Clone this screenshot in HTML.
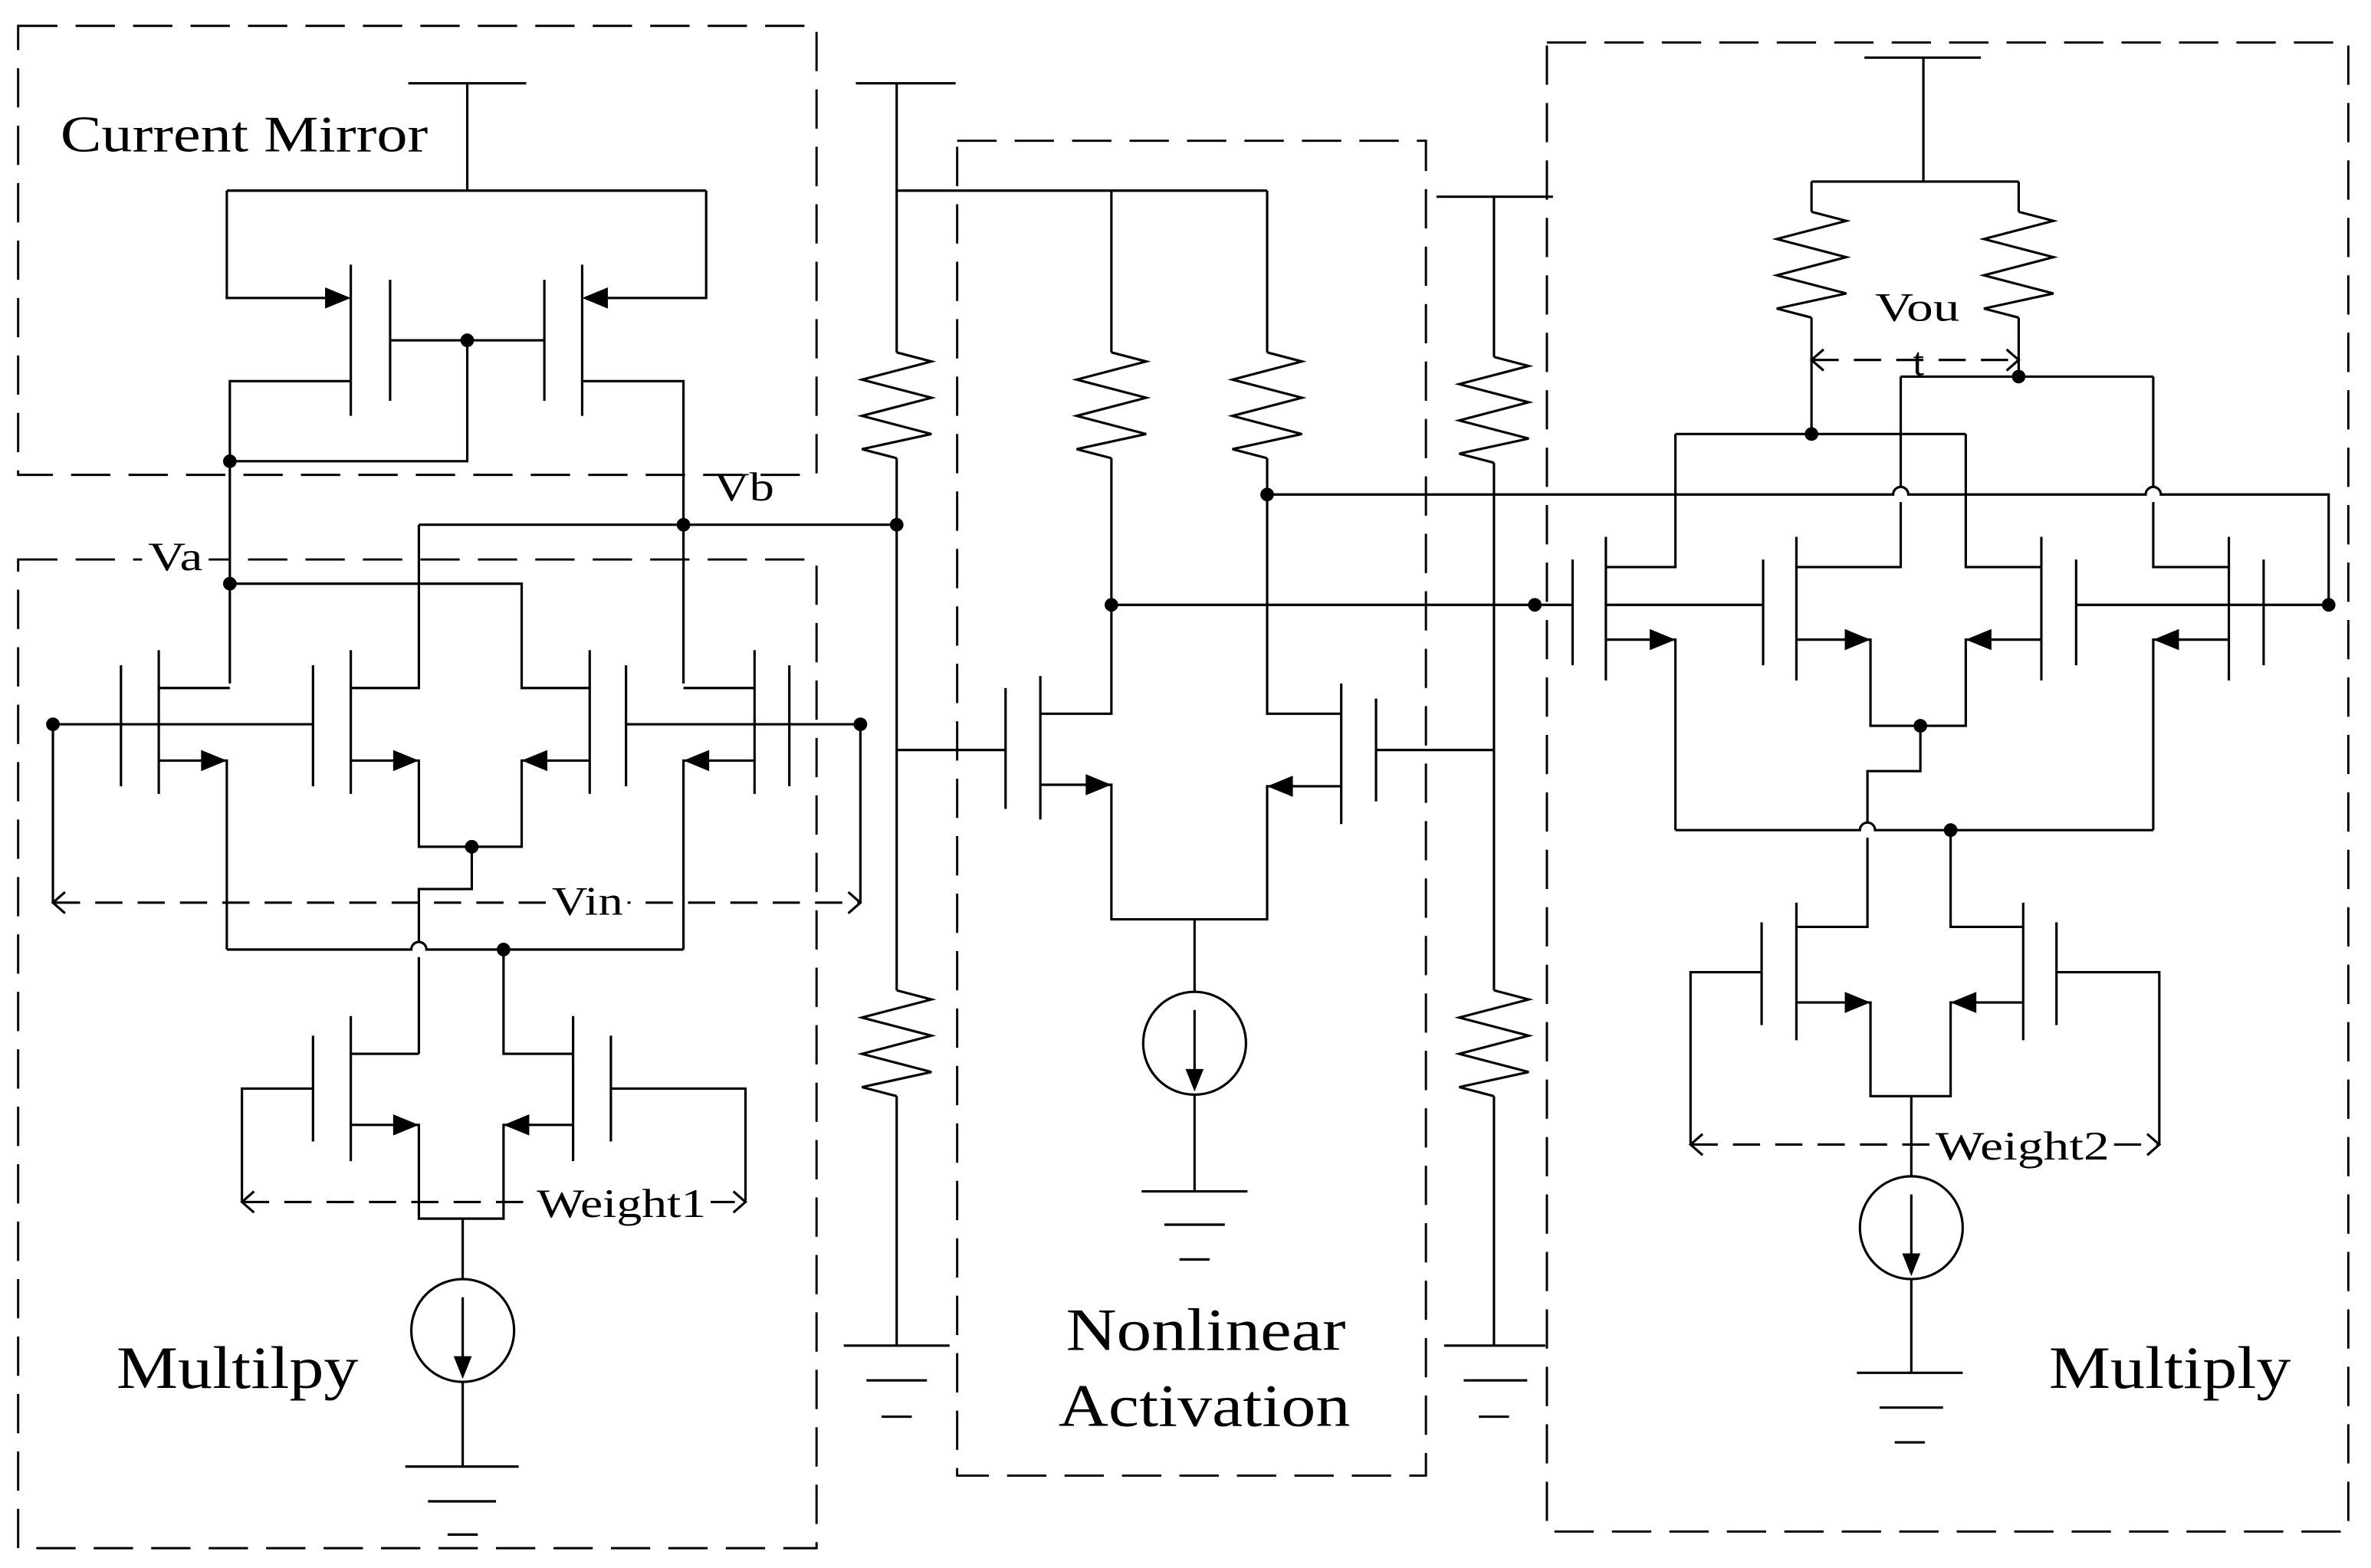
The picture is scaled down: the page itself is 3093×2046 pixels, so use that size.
<!DOCTYPE html>
<html><head><meta charset="utf-8"><style>
html,body{margin:0;padding:0;background:#fff;}
svg{display:block;}
text{font-family:"Liberation Serif",serif;fill:#000;}
</style></head><body>
<svg width="3093" height="2046" viewBox="0 0 1568 1037" xmlns="http://www.w3.org/2000/svg">
<defs>
<path id="r" d="M0,0 L23,6 L-23,18 L23,30 L-23,42 L23,54 L-23,64 L0,70" fill="none" stroke="#000" stroke-width="1.6"/>
<polygon id="ar" points="0,0 -17,-7 -17,7" fill="#000"/>
<polygon id="al" points="0,0 17,-7 17,7" fill="#000"/>
<polygon id="ad" points="0,0 -6,-15 6,-15" fill="#000"/>
<circle id="d" r="4.5" fill="#000"/>
</defs>
<g fill="none" stroke="#000" stroke-width="1.6">
<g stroke-dasharray="26,12" stroke-width="1.5">
<rect x="12" y="17" width="528" height="297"/>
<rect x="12" y="370" width="528" height="654"/>
<rect x="633" y="93" width="310" height="883"/>
<rect x="1023" y="28" width="530" height="985"/>
</g>
<path d="M270,55H348 M309,55V126 M150,126H467 M150,126V197H215 M467,126V197H402"/>
<path d="M232,175V275 M258,185V265 M258,225H360 M360,185V265 M385,175V275"/>
<path d="M232,252H152V452 M309,225V305H152 M385,252H452V452"/>
<path d="M152,386H345V455H390 M277,347H593 M277,347V455H232"/>
<path d="M105,430V525 M80,440V520 M35,479H207 M207,440V520 M232,430V525"/>
<path d="M105,455H152 M105,503H150V628 M232,503H277V560H345V503H390 M312,560V588H277V623 M277,633V697"/>
<path d="M390,430V525 M414,440V520 M414,479H569 M522,440V520 M499,430V525 M499,455H452 M499,503H452V628"/>
<path d="M150,628H272 A5,5 0 0 1 282,628 H452 M333,628V697H379"/>
<path d="M232,672V768 M207,685V755 M232,697H277 M232,744H277V806H333V744H379 M207,720H160V795 M379,672V768 M404,685V755 M404,720H493V795"/>
<path d="M306,806V846 M306,914V970 M268,970H343 M283,993H328 M296,1015H316"/>
<circle cx="306" cy="880" r="34"/><path d="M306,858V898"/>
<path d="M35,479V597 M569,479V597"/>
<path d="M35,597H569 M160,795H493" stroke-dasharray="18,10"/>
<path d="M43,590L35,597L43,604 M561,590L569,597L561,604 M168,788L160,795L168,802 M485,788L493,795L485,802"/>
<path d="M566,55H632 M593,55V233 M593,303V655 M593,725V890 M558,890H628 M573,913H613 M583,937H603 M593,126H838 M593,496H665"/>
<path d="M735,126V233 M735,303V472H688 M838,126V233 M838,303V472H887 M665,455V535 M688,447V542 M688,519H735V608H838V520H887 M887,452V545 M910,462V530 M910,496H988"/>
<path d="M790,608V656 M790,724V788 M755,788H825 M770,810H810 M780,833H800"/>
<circle cx="790" cy="690" r="34"/><path d="M790,668V708"/>
<path d="M735,400H1040 M838,327H1252 A5,5 0 0 1 1262,327 H1419 A5,5 0 0 1 1429,327 H1540V400 M1540,400H1373"/>
<path d="M950,130H1027 M988,130V236 M988,306V655 M988,725V890 M955,890H1022 M968,913H1010 M978,937H998"/>
<path d="M1233,38H1310 M1272,38V120 M1198,120H1335 M1198,120V140 M1335,120V140 M1198,210V287 M1335,210V249"/>
<path d="M1108,287H1300 M1108,287V375H1062 M1300,287V375H1350 M1257,249H1424 M1257,249V322 M1257,332V375H1188 M1424,249V322 M1424,332V375H1474"/>
<path d="M1062,355V450 M1040,370V440 M1062,400H1166 M1166,370V440 M1188,355V450 M1350,355V450 M1373,370V440 M1474,355V450 M1497,370V440"/>
<path d="M1062,423H1108V549 M1188,423H1237V480H1300V423H1350 M1474,423H1424V549 M1270,480V510H1235V544 M1235,554V613H1188"/>
<path d="M1108,549H1230 A5,5 0 0 1 1240,549 H1424 M1290,549V613H1338"/>
<path d="M1188,597V688 M1165,610V678 M1188,663H1237V725H1290V663H1338 M1338,597V688 M1360,610V678 M1165,643H1118V757 M1360,643H1428V757"/>
<path d="M1264,725V778 M1264,846V908 M1228,908H1298 M1243,931H1285 M1253,954H1273"/>
<circle cx="1264" cy="812" r="34"/><path d="M1264,790V830"/>
<path d="M1198,238H1335 M1118,757H1428" stroke-dasharray="18,10"/>
<path d="M1206,231L1198,238L1206,245 M1327,231L1335,238L1327,245 M1126,750L1118,757L1126,764 M1420,750L1428,757L1420,764"/>
</g>
<use href="#r" x="593" y="233"/><use href="#r" x="593" y="655"/>
<use href="#r" x="735" y="233"/><use href="#r" x="838" y="233"/>
<use href="#r" x="988" y="236"/><use href="#r" x="988" y="655"/>
<use href="#r" x="1198" y="140"/><use href="#r" x="1335" y="140"/>
<use href="#ar" x="232" y="197"/><use href="#al" x="385" y="197"/>
<use href="#ar" x="150" y="503"/><use href="#ar" x="277" y="503"/><use href="#al" x="345" y="503"/><use href="#al" x="452" y="503"/>
<use href="#ar" x="277" y="744"/><use href="#al" x="333" y="744"/>
<use href="#ar" x="735" y="519"/><use href="#al" x="838" y="520"/>
<use href="#ar" x="1108" y="423"/><use href="#ar" x="1237" y="423"/><use href="#al" x="1300" y="423"/><use href="#al" x="1424" y="423"/>
<use href="#ar" x="1237" y="663"/><use href="#al" x="1290" y="663"/>
<use href="#ad" x="306" y="912"/><use href="#ad" x="790" y="722"/><use href="#ad" x="1264" y="844"/>
<use href="#d" x="309" y="225"/><use href="#d" x="152" y="305"/><use href="#d" x="152" y="386"/><use href="#d" x="452" y="347"/>
<use href="#d" x="593" y="347"/><use href="#d" x="35" y="479"/><use href="#d" x="569" y="479"/><use href="#d" x="312" y="560"/><use href="#d" x="333" y="628"/>
<use href="#d" x="735" y="400"/><use href="#d" x="838" y="327"/><use href="#d" x="1015" y="400"/><use href="#d" x="1540" y="400"/>
<use href="#d" x="1198" y="287"/><use href="#d" x="1335" y="249"/><use href="#d" x="1270" y="480"/><use href="#d" x="1290" y="549"/>
<g fill="#fff">
<rect x="94" y="355" width="44" height="28"/>
<rect x="361" y="583" width="54" height="28"/>
<rect x="352" y="782" width="118" height="28"/>
<rect x="1277" y="743" width="121" height="28"/>
</g>
<text x="40" y="100" font-size="34" textLength="243" lengthAdjust="spacingAndGlyphs">Current Mirror</text>
<text x="98" y="377" font-size="27" textLength="36" lengthAdjust="spacingAndGlyphs">Va</text>
<text x="472" y="331" font-size="27" textLength="40" lengthAdjust="spacingAndGlyphs">Vb</text>
<text x="365" y="605" font-size="27" textLength="47" lengthAdjust="spacingAndGlyphs">Vin</text>
<text x="355" y="805" font-size="27" textLength="112" lengthAdjust="spacingAndGlyphs">Weight1</text>
<text x="77" y="918" font-size="40" textLength="160" lengthAdjust="spacingAndGlyphs">Multilpy</text>
<text x="705" y="893" font-size="40" textLength="185" lengthAdjust="spacingAndGlyphs">Nonlinear</text>
<text x="700" y="943" font-size="40" textLength="193" lengthAdjust="spacingAndGlyphs">Activation</text>
<text x="1240" y="212" font-size="27" textLength="56" lengthAdjust="spacingAndGlyphs">Vou</text>
<text x="1265" y="248" font-size="27">t</text>
<text x="1280" y="767" font-size="27" textLength="115" lengthAdjust="spacingAndGlyphs">Weight2</text>
<text x="1355" y="918" font-size="40" textLength="160" lengthAdjust="spacingAndGlyphs">Multiply</text>
</svg>
</body></html>
